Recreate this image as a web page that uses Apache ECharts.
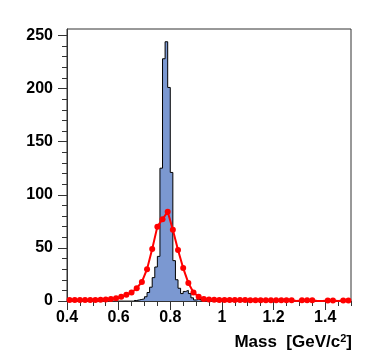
<!DOCTYPE html>
<html><head><meta charset="utf-8">
<script src="https://cdn.jsdelivr.net/npm/echarts@6/dist/echarts.min.js"></script>
<style>html,body{margin:0;padding:0;background:#fff}#c{width:374px;height:359px}</style>
</head><body><div id="c"></div>
<script>
// Blue histogram: bins of width 0.01 starting at 0.66
const histStart = 0.66;
const histWidth = 0.01;
const histValues = [0.5, 1, 1.5, 2, 4, 8, 13, 22, 32, 42, 125, 228, 244, 201, 121, 38, 20, 12, 7, 9, 10, 7, 3, 1, 1.5, 1.5];
// Red points: bins of width 0.02, centres from 0.41 (0 = no marker drawn)
const markStart = 0.41;
const markStep = 0.02;
const markValues = [1, 1, 1, 1, 1, 1, 1.2, 1.5, 2, 2.5, 4, 6, 8, 12, 18, 30, 49, 70, 77, 84, 67, 48, 31, 17, 8, 4, 2, 1.5, 1.2, 1, 1, 1, 0.9, 0.9, 0.9, 0.8, 0.8, 0.8, 0.8, 0.7, 0.7, 0.7, 0.7, 0.6, 0, 0.6, 0.6, 0.6, 0, 0, 0.5, 0.5, 0, 0.5, 0.5];
const xTicks = [0.4, 0.6, 0.8, 1, 1.2, 1.4];
const yTicks = [0, 50, 100, 150, 200, 250];
const xMin = 0.4, xMax = 1.5, yMin = 0, yMax = 256;

const r3 = v => Math.round(v * 1000) / 1000;
const histData = [];
histValues.forEach((v, i) => histData.push([r3(histStart + i * histWidth), v]));
histData.push([r3(histStart + histValues.length * histWidth), 0]);
const markData = markValues.map((v, i) => {
  const x = r3(markStart + i * markStep);
  return v === 0 ? { value: [x, 0], symbol: 'none' } : { value: [x, v] };
});
const yMinor = []; for (let v = 0; v <= 250; v += 10) yMinor.push(v);
const xMinor = []; for (let i = 0; i <= 22; i++) xMinor.push(r3(0.4 + i * 0.05));

const font = 'Liberation Sans, Arial, sans-serif';
const axisCol = '#333';
const chart = echarts.init(document.getElementById('c'), null, { renderer: 'canvas' });
chart.setOption({
  animation: false,
  grid: { left: 67, top: 29, width: 284, height: 272, show: true, borderColor: axisCol, borderWidth: 1, backgroundColor: 'transparent' },
  xAxis: [
    { type: 'value', min: xMin, max: xMax, interval: 0.2, position: 'bottom',
      axisLine: { show: true, lineStyle: { color: axisCol, width: 1 } },
      axisTick: { show: true, inside: false, length: 9, customValues: xTicks, lineStyle: { color: axisCol } },
      axisLabel: { show: true, customValues: xTicks, margin: 9, color: '#000', fontFamily: font, fontWeight: 'bold', fontSize: 16,
        formatter: v => String(v) },
      splitLine: { show: false } },
    { type: 'value', min: xMin, max: xMax, interval: 0.05, position: 'bottom',
      axisLine: { show: false },
      axisTick: { show: true, inside: false, length: 5, customValues: xMinor, lineStyle: { color: axisCol } },
      axisLabel: { show: false }, splitLine: { show: false } }
  ],
  yAxis: [
    { type: 'value', min: yMin, max: yMax, interval: 50, position: 'left',
      axisLine: { show: true, lineStyle: { color: axisCol, width: 1 } },
      axisTick: { show: true, inside: false, length: 9, customValues: yTicks, lineStyle: { color: axisCol } },
      axisLabel: { show: true, customValues: yTicks, margin: 14, color: '#000', fontFamily: font, fontWeight: 'bold', fontSize: 16 },
      splitLine: { show: false } },
    { type: 'value', min: yMin, max: yMax, interval: 10, position: 'left',
      axisLine: { show: false },
      axisTick: { show: true, inside: false, length: 5, customValues: yMinor, lineStyle: { color: axisCol } },
      axisLabel: { show: false }, splitLine: { show: false } }
  ],
  graphic: [
    { type: 'text', right: 22, top: 333,
      style: { text: '{b|Mass  [GeV/c}{s|2}{b|]}', fill: '#000',
        fontFamily: font, fontWeight: 'bold', fontSize: 17,
        rich: { b: { fontFamily: font, fontWeight: 'bold', fontSize: 17, fill: '#000', verticalAlign: 'bottom', lineHeight: 18 },
                s: { fontFamily: font, fontWeight: 'bold', fontSize: 11, fill: '#000', verticalAlign: 'top', lineHeight: 18 } } } }
  ],
  series: [
    { type: 'line', xAxisIndex: 0, yAxisIndex: 0, data: histData, step: 'end', symbol: 'none',
      lineStyle: { color: '#000', width: 1 }, areaStyle: { color: '#7b98d1', opacity: 1 }, z: 2 },
    { type: 'line', xAxisIndex: 0, yAxisIndex: 0, data: markData, symbol: 'circle', symbolSize: 6,
      itemStyle: { color: '#ff0000' }, lineStyle: { color: '#ff0000', width: 2 }, z: 3 }
  ]
});
</script></body></html>
